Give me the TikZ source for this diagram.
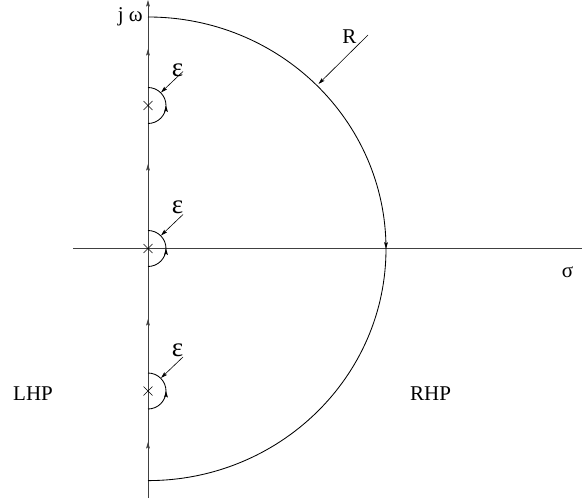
\documentclass[tikz,border=0pt]{standalone}
\usepackage{fontspec}
\setmainfont{Liberation Serif}
\usetikzlibrary{arrows.meta,decorations.markings}
\tikzset{smalltip/.tip={Stealth[length=6.5pt,width=3.8pt,inset=1.2pt]}}
\begin{document}
\begin{tikzpicture}[x=1pt,y=1pt,
  axis/.style={line width=0.8pt,draw=black!75},
  curve/.style={line width=0.85pt,draw=black},
  lbl/.style={inner sep=0pt,font=\fontsize{21}{24}\selectfont},
  eps/.style={inner sep=0pt,font=\fontsize{27}{30}\selectfont},
  midarrow/.style={postaction={decorate},decoration={markings,mark=at position 0.5 with {\arrow{smalltip}}}}
]
\useasboundingbox (0,0) rectangle (582,-503);
% axes
\coordinate (ytop) at (148,0);
\coordinate (ybot) at (148,-498);
\coordinate (xl) at (73,-248.5);
\coordinate (xr) at (582,-248.5);
\draw[axis] (xl) -- (xr);
\draw[axis,-{smalltip},postaction={decorate},decoration={markings,
  mark=at position 56pt with {\arrow{smalltip}},
  mark=at position 179pt with {\arrow{smalltip}},
  mark=at position 334pt with {\arrow{smalltip}},
  mark=at position 449pt with {\arrow{smalltip}}}] (ybot) -- (ytop);
% poles
\coordinate (P1) at (148,-105.5);
\coordinate (P2) at (148,-248.5);
\coordinate (P3) at (148,-391);
\foreach \p in {P1,P2,P3}{
  \draw[line width=0.7pt] ([shift={(-4.5,-4.5)}]\p) -- ([shift={(4.5,4.5)}]\p)
                          ([shift={(-4.5,4.5)}]\p) -- ([shift={(4.5,-4.5)}]\p);
  \draw[curve,midarrow] ([yshift=-18pt]\p) arc[start angle=-90,end angle=90,radius=18pt];
}
% big arc
\coordinate (Rtop) at (148,-17);
\draw[curve,midarrow] (Rtop) arc[start angle=90,end angle=-90,x radius=238pt,y radius=231.8pt];
% R label
\node[lbl,anchor=base] (R) at (349.5,-44) {R};
\coordinate (Rs) at (368,-35);
\coordinate (Re) at (318.5,-84);
\draw[line width=0.6pt,-{smalltip}] (Rs) -- (Re);
% epsilon labels
\node[eps,anchor=base] (e1) at (177.5,-77) {ε};
\node[eps,anchor=base] (e2) at (177.5,-213.5) {ε};
\node[eps,anchor=base] (e3) at (177.5,-356) {ε};
\foreach \p in {P1,P2,P3}{
  \draw[line width=0.6pt,-{smalltip}] ([shift={(35,34)}]\p) -- ([shift={(13,13)}]\p);
}
% other labels
\node[lbl,anchor=base east] (jw) at (143,-22) {j ω};
\node[lbl,anchor=base] (sig) at (567.5,-277) {σ};
\node[lbl,anchor=base west] (lhp) at (13,-400) {LHP};
\node[lbl,anchor=base west] (rhp) at (410,-400) {RHP};
\end{tikzpicture}
\end{document}
